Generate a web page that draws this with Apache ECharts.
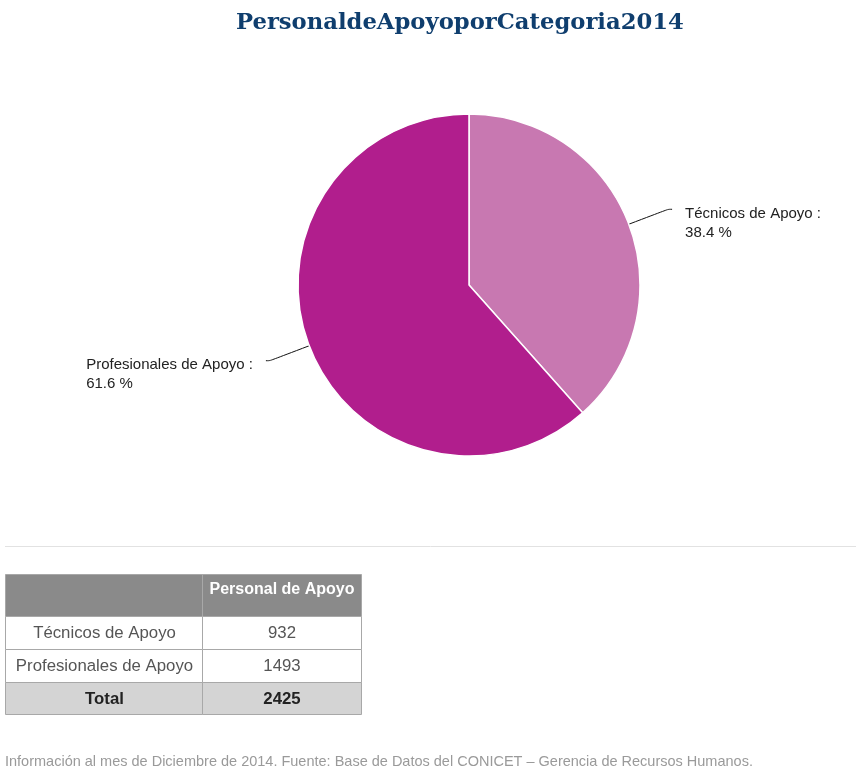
<!DOCTYPE html>
<html>
<head>
<meta charset="utf-8">
<script src="https://cdn.jsdelivr.net/npm/echarts@6/dist/echarts.min.js"></script>
<style>
html,body{margin:0;padding:0;background:#fff;}
#chart{width:856px;height:782px;}
</style>
</head>
<body>
<div id="chart"></div>
<script>
const titleText = 'PersonaldeApoyoporCategoria2014';
const categories = ['Técnicos de Apoyo', 'Profesionales de Apoyo'];
const values = [932, 1493];
const sliceColors = ['#c878b1', '#b11e8d'];
const tableHeader = 'Personal de Apoyo';
const totalLabel = 'Total';
const footnote = 'Información al mes de Diciembre de 2014. Fuente: Base de Datos del CONICET – Gerencia de Recursos Humanos.';

const chart = echarts.init(document.getElementById('chart'), null, {renderer: 'canvas'});

// table geometry
const tX = 5, tCol = 202, tRight = 361;
const rowTops = [574, 616, 649, 682, 714];
const total = values.reduce((a, b) => a + b, 0);
const rows = [
  {label: '', value: tableHeader, fill: '#8a8a8a', color: '#ffffff', weight: 'bold', size: 16},
].concat(categories.map((c, i) => ({label: c, value: String(values[i]), fill: '#ffffff', color: '#555555', weight: 'normal', size: 16.8})))
 .concat([{label: totalLabel, value: String(total), fill: '#d4d4d4', color: '#222222', weight: 'bold', size: 16.8}]);

const graphic = [
  {type: 'line', shape: {x1: 5, y1: 546.5, x2: 856, y2: 546.5}, style: {stroke: '#e2e2e2', lineWidth: 1}, silent: true}
];
rows.forEach((r, i) => {
  const y0 = rowTops[i], y1 = rowTops[i + 1];
  const h = y1 - y0;
  graphic.push({type: 'rect', shape: {x: tX + 0.5, y: y0 + 0.5, width: tCol - tX, height: h}, style: {fill: r.fill, stroke: '#a8a8a8', lineWidth: 1}, silent: true});
  graphic.push({type: 'rect', shape: {x: tCol + 0.5, y: y0 + 0.5, width: tRight - tCol, height: h}, style: {fill: r.fill, stroke: '#a8a8a8', lineWidth: 1}, silent: true});
  if (r.label) {
    graphic.push({type: 'text', x: (tX + tCol) / 2 + 1, y: (y0 + y1) / 2 + 1, style: {text: r.label, fill: r.color, font: r.weight + ' ' + r.size + 'px "Liberation Sans", Arial, sans-serif', align: 'center', verticalAlign: 'middle'}, silent: true});
  }
  graphic.push({type: 'text', x: (tCol + tRight) / 2 + 0.5, y: (y0 + y1) / 2 + (i === 0 ? -5 : 1), style: {text: r.value, fill: r.color, font: r.weight + ' ' + r.size + 'px "Liberation Sans", Arial, sans-serif', align: 'center', verticalAlign: 'middle'}, silent: true});
});
graphic.push({type: 'text', x: 5, y: 762, style: {text: footnote, fill: '#9a9a9a', font: '14.5px "Liberation Sans", Arial, sans-serif', align: 'left', verticalAlign: 'middle'}, silent: true});

chart.setOption({
  animation: false,
  backgroundColor: '#ffffff',
  title: {
    text: titleText,
    left: 236,
    top: 12,
    padding: 0,
    textStyle: {fontFamily: '"DejaVu Serif", serif', fontWeight: 'bold', fontSize: 22.7, color: '#0f3e6e'}
  },
  series: [{
    type: 'pie',
    center: [469, 285],
    radius: 171,
    startAngle: 90,
    clockwise: true,
    avoidLabelOverlap: false,
    percentPrecision: 1,
    data: categories.map((c, i) => ({name: c, value: values[i], itemStyle: {color: sliceColors[i]}})),
    itemStyle: {borderColor: '#ffffff', borderWidth: 1.5},
    label: {
      show: true,
      formatter: '{t|{b} :}\n{t|{d} %}',
      color: '#222222',
      fontSize: 15,
      fontFamily: '"Liberation Sans", Arial, sans-serif',
      lineHeight: 19,
      padding: [28, 0, 0, 0],
      distanceToLabelLine: 13,
      rich: {t: {align: 'left', fontSize: 15, lineHeight: 19, color: '#222222', fontFamily: '"Liberation Sans", Arial, sans-serif'}}
    },
    labelLine: {
      show: true,
      length: 42,
      length2: 4,
      smooth: 0.3,
      lineStyle: {color: '#111111', width: 1}
    },
    emphasis: {disabled: true}
  }],
  graphic: graphic
});
</script>
</body>
</html>
